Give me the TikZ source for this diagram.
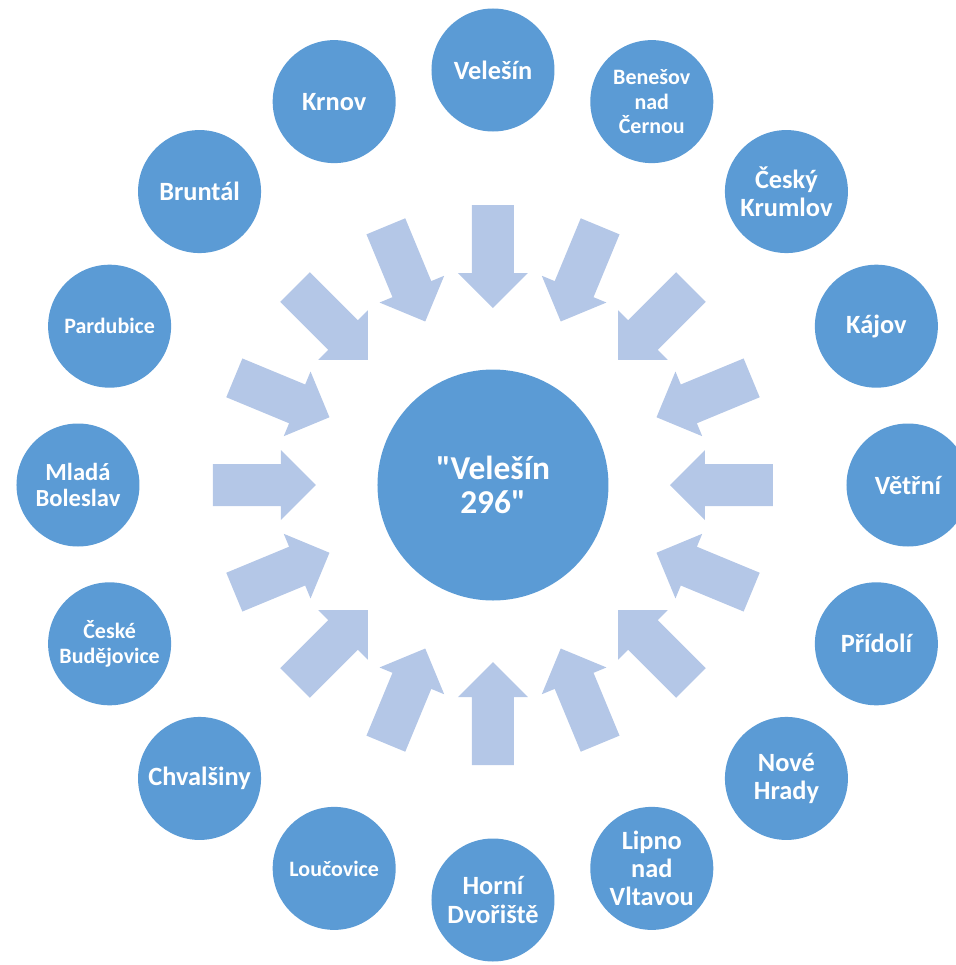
\documentclass[tikz,border=0pt]{standalone}
\usepackage{fontspec}
\setmainfont{Carlito}[Ligatures=TeXOff]
\definecolor{townblue}{HTML}{5B9BD5}
\definecolor{arrowblue}{HTML}{B4C7E7}
\tikzset{
  town/.style={circle,fill=townblue,text=white,font=\bfseries\fontsize{15}{16}\selectfont,
               align=center,minimum size=2.46cm,inner sep=0pt},
  townmid/.style={town,font=\bfseries\fontsize{14}{15}\selectfont},
  townsmall/.style={town,font=\bfseries\fontsize{12.5}{14.2}\selectfont},
  hub/.style={town,minimum size=4.62cm,font=\bfseries\fontsize{19}{19.5}\selectfont},
  inarrow/.style={fill=arrowblue}
}

\begin{document}
\begin{tikzpicture}
  \useasboundingbox (-9.86,-9.6) rectangle (9.26,9.7);
  % centre
  \node[hub] (centre) at (0,0) {"Velešín\\296"};
  % arrows and towns
  \foreach \a/\n/\s/\t in {
      90/velesin/town/{Velešín},
      67.5/benesov/townsmall/{Benešov\\nad\\Černou},
      45/krumlov/town/{Český\\Krumlov},
      22.5/kajov/town/{Kájov},
      0/vetrni/town/{Větřní},
      -22.5/pridoli/town/{Přídolí},
      -45/hrady/town/{Nové\\Hrady},
      -67.5/lipno/town/{Lipno\\nad\\Vltavou},
      -90/dvoriste/town/{Horní\\Dvořiště},
      -112.5/loucovice/townsmall/{Loučovice},
      -135/chvalsiny/town/{Chvalšiny},
      -157.5/budejovice/townsmall/{České\\Budějovice},
      180/boleslav/townmid/{Mladá\\Boleslav},
      157.5/pardubice/townsmall/{Pardubice},
      135/bruntal/town/{Bruntál},
      112.5/krnov/town/{Krnov}} {
    \fill[inarrow,rotate=\a] (5.6,0.42) -- (4.24,0.42) -- (4.24,0.7) -- (3.54,0)
      -- (4.24,-0.7) -- (4.24,-0.42) -- (5.6,-0.42) -- cycle;
    \node[\s] (\n) at (\a:8.3) {\t};
  }
\end{tikzpicture}
\end{document}
